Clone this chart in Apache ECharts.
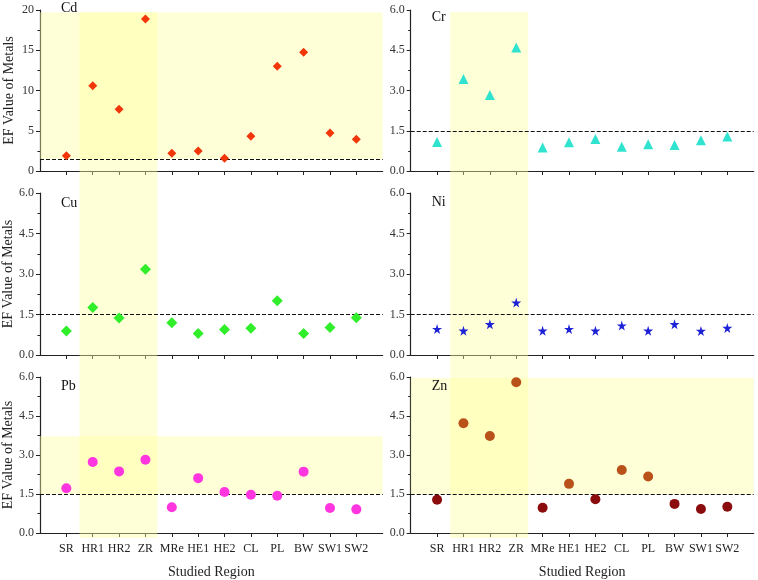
<!DOCTYPE html>
<html><head><meta charset="utf-8">
<script src="https://cdn.jsdelivr.net/npm/echarts@6/dist/echarts.min.js"></script>
<style>html,body{margin:0;padding:0;background:#fff}#c{width:758px;height:580px}</style>
</head><body><div id="c"></div>
<script>
const categories = ['SR','HR1','HR2','ZR','MRe','HE1','HE2','CL','PL','BW','SW1','SW2'];
const cd = [1.9,10.6,7.66,18.88,2.19,2.48,1.57,4.31,13.0,14.74,4.72,3.93];
const cr = [1.08,3.43,2.83,4.6,0.88,1.07,1.19,0.9,1.0,0.97,1.15,1.29];
const cu = [0.89,1.76,1.37,3.18,1.19,0.8,0.94,0.99,2.01,0.8,1.02,1.38];
const ni = [0.96,0.9,1.14,1.94,0.9,0.96,0.9,1.09,0.9,1.14,0.89,1.0];
const pb = [1.72,2.73,2.37,2.82,0.99,2.11,1.58,1.47,1.43,2.36,0.96,0.91];
const zn = [1.28,4.22,3.73,5.8,0.97,1.89,1.3,2.42,2.17,1.12,0.92,1.01];
const threshold = 1.5;
const highlightCols = [1.5, 4.45];
const bandCd = [1.5, 19.7];
const bandPb = [1.5, 3.72];
const bandZn = [1.5, 5.96];

const FONT = 'Liberation Serif';
const YEL = 'rgba(255,255,160,0.42)';
const pos = v => categories.map((c,i)=>[i+1, v[i]]);
const tickVals = categories.map((c,i)=>i+1);

const L = {left:40, width:342.7}, R = {left:410.7, width:343};
const rows = [{top:10,height:161},{top:193,height:162},{top:377,height:161}];
const grids = [];
for (const r of rows) { grids.push(Object.assign({}, L, r)); grids.push(Object.assign({}, R, r)); }
// full-height grids for vertical highlight columns
grids.push(Object.assign({}, L, {top:12, height:526}));
grids.push(Object.assign({}, R, {top:12, height:526}));

const panels = [
 {name:'Cd', data:cd, max:20, interval:5, sym:'diamond', size:9, color:'#F2360A', band:bandCd, fmt:v=>String(v), lab:-2},
 {name:'Cr', data:cr, max:6, interval:1.5, sym:'triangle', size:10, color:'#2FE3CF', lab:7},
 {name:'Cu', data:cu, max:6, interval:1.5, sym:'diamond', size:11, color:'#30EE2A', lab:10},
 {name:'Ni', data:ni, max:6, interval:1.5, sym:'path://M50,0 L61,35 L98,35 L68,57 L79,91 L50,70 L21,91 L32,57 L2,35 L39,35 Z', size:10, color:'#1E22D6', lab:9},
 {name:'Pb', data:pb, max:6, interval:1.5, sym:'circle', size:10, color:'#FF36E0', band:bandPb, lab:9},
 {name:'Zn', data:zn, max:6, interval:1.5, sym:'circle', size:10, color:p=>p.value[1]>threshold?'#B8521A':'#8A0C0C', band:bandZn, lab:9}
];

const xAxis=[], yAxis=[], series=[], title=[];
panels.forEach((p,i)=>{
  const bottom = i>=4, leftCol = i%2===0;
  xAxis.push({type:'value', gridIndex:i, min:0, max:13, interval:1,
    axisLine:{show:true, onZero:false, lineStyle:{color:'#222', width:1.2}},
    axisTick:{show:true, inside:false, length:4, customValues:tickVals, lineStyle:{color:'#222'}},
    axisLabel:{show:bottom, customValues:tickVals, formatter:v=>categories[v-1]||'', fontFamily:FONT, fontSize:12, color:'#222', margin:10},
    splitLine:{show:false},
    name: bottom?'Studied Region':'', nameLocation:'middle', nameGap:32,
    nameTextStyle:{fontFamily:FONT, fontSize:14, color:'#222'}
  });
  yAxis.push({type:'value', gridIndex:i, min:0, max:p.max, interval:p.interval,
    axisLine:{show:true, lineStyle:{color:'#222', width:1.2}},
    axisTick:{show:true, inside:false, length:4, lineStyle:{color:'#222'}},
    minorTick:{show:true, splitNumber:2, length:2.5, lineStyle:{color:'#222'}},
    axisLabel:{fontFamily:FONT, fontSize:12, color:'#333', margin:6, formatter:p.fmt||(v=>v.toFixed(1))},
    splitLine:{show:false},
    name: leftCol?'EF Value of Metals':'', nameLocation:'middle', nameGap:24, nameRotate:90,
    nameTextStyle:{fontFamily:FONT, fontSize:14, color:'#222'}
  });
  const s = {type:'scatter', xAxisIndex:i, yAxisIndex:i, data:pos(p.data), symbol:p.sym, symbolSize:p.size,
    itemStyle:{color:p.color, opacity:1}, z:5,
    markLine:{silent:true, symbol:'none', label:{show:false},
      lineStyle:{color:'#111', type:[4,2], width:1.2}, data:[{yAxis:threshold}]}
  };
  if (p.band) s.markArea = {silent:true, itemStyle:{color:YEL}, data:[[{yAxis:p.band[0]},{yAxis:p.band[1]}]]};
  series.push(s);
  const g = grids[i];
  title.push({text:p.name, left:g.left+21, top:g.top+p.lab-7, padding:0, textStyle:{fontFamily:FONT, fontSize:14, fontWeight:'normal', color:'#111'}});
});
[6,7].forEach(i=>{
  xAxis.push({type:'value', gridIndex:i, min:0, max:13, show:false});
  yAxis.push({type:'value', gridIndex:i, min:0, max:1, show:false});
  series.push({type:'scatter', xAxisIndex:i, yAxisIndex:i, data:[], z:1,
    markArea:{silent:true, itemStyle:{color:YEL}, data:[[{xAxis:highlightCols[0]},{xAxis:highlightCols[1]}]]}});
});

const chart = echarts.init(document.getElementById('c'), null, {renderer:'canvas'});
chart.setOption({animation:false, backgroundColor:'#fff', title, grid:grids, xAxis, yAxis, series});
</script></body></html>
